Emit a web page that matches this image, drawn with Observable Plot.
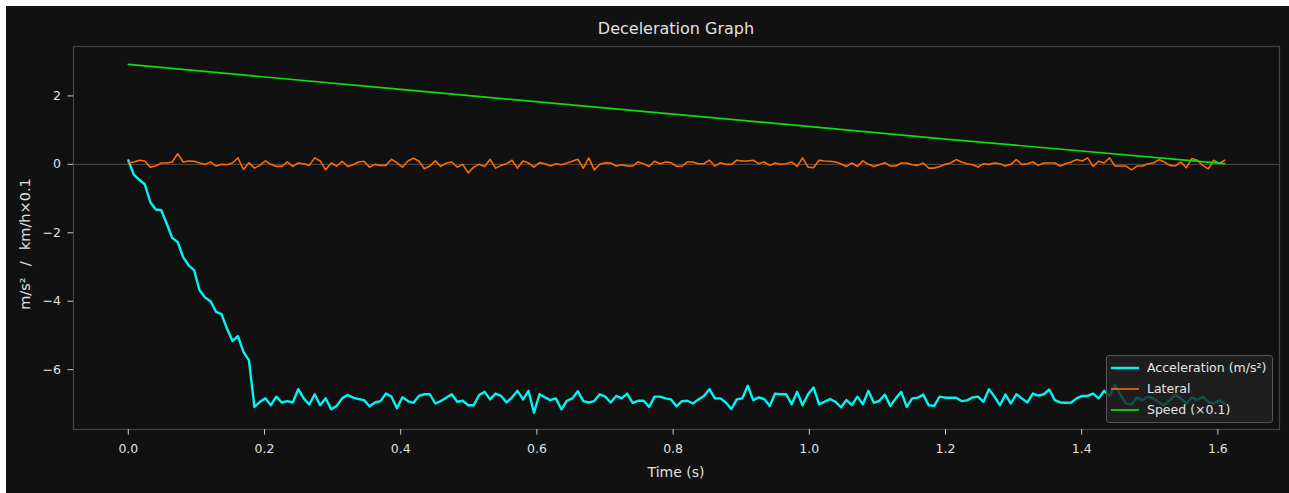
<!DOCTYPE html>
<html><head><meta charset="utf-8">
<script src="https://cdn.jsdelivr.net/npm/d3@7"></script>
<script src="https://cdn.jsdelivr.net/npm/@observablehq/plot@0.6"></script>
<style>
html,body{margin:0;padding:0;background:#ffffff;}
#fig{position:absolute;left:6px;top:6px;width:1283px;height:487px;background:#111111;font-family:"DejaVu Sans",sans-serif;color:#e0e0e0;overflow:hidden;}
#chart{position:absolute;left:0;top:0;}
#title{position:absolute;left:67px;width:1206px;top:13px;text-align:center;font-size:16px;line-height:19px;white-space:nowrap;}
#xlabel{position:absolute;left:67px;width:1206px;top:458px;text-align:center;font-size:14px;line-height:17px;white-space:pre;}
#ylabel{position:absolute;left:19px;top:238px;transform:translate(-50%,-50%) rotate(-90deg);font-size:14.5px;line-height:17px;white-space:pre;word-spacing:1px;}
#legend{position:absolute;left:1100px;top:349px;width:165px;height:66px;border:1px solid #555;border-radius:3px;background:rgba(34,34,34,0.8);}
.row{position:absolute;left:0;height:20px;width:165px;}
.row svg{position:absolute;left:3px;top:0;}
.row span{position:absolute;left:40px;top:1px;font-size:12.5px;line-height:18px;white-space:nowrap;color:#e6e6e6;}
</style>
</head><body>
<div id="fig">
  <div id="chart"></div>
  <div id="title">Deceleration Graph</div>
  <div id="xlabel">Time (s)</div>
  <div id="ylabel">m/s²  /  km/h×0.1</div>
  <div id="legend"></div>
</div>
<script>
// ---- data ----
const sampleStep = 0.00805; // seconds between samples (201 samples, 0 .. 1.61 s)

const acceleration = [
  0.12, -0.30, -0.45, -0.58, -1.10, -1.32, -1.34, -1.73, -2.15, -2.27, -2.71, -2.95, -3.09, -3.68, -3.89, -4.00, -4.31, -4.38, -4.80, -5.16, -5.02, -5.48, -5.72,
  -7.09, -6.94, -6.84, -7.04, -6.79, -6.96, -6.92, -6.96, -6.57, -6.84, -7.02, -6.72, -7.04, -6.84, -7.16, -7.06, -6.84, -6.74, -6.82, -6.86, -6.89, -7.07, -6.96, -6.92, -6.70, -6.79, -7.13, -6.81, -6.92, -6.97, -6.77, -6.72, -6.72, -6.99, -6.92, -6.82, -6.72, -6.94, -6.91, -7.04, -7.04, -6.74, -6.65,
  -6.87, -6.70, -6.77, -6.96, -6.81, -6.62, -6.87, -6.62, -7.26, -6.72, -6.81, -6.89, -6.84, -7.16, -6.91, -6.84, -6.63, -6.92, -6.96, -6.92, -6.72, -6.79, -6.96, -6.77, -6.84, -6.70, -6.97, -6.91, -6.91, -7.09, -6.79, -6.79, -6.84, -6.87, -7.07, -6.92, -6.91, -6.99, -6.87, -6.77, -6.57, -6.84, -6.84, -6.96,
  -7.15, -6.87, -6.84, -6.47, -6.89, -6.81, -6.86, -7.06, -6.70, -6.72, -6.72, -7.01, -6.65, -7.04, -6.72, -6.52, -7.01, -6.94, -6.86, -6.94, -7.10, -6.89, -7.04, -6.79, -7.01, -6.62, -6.97, -6.91, -6.73, -7.06, -6.84, -6.65, -7.09, -6.84, -6.82, -6.73, -7.04, -7.06, -6.79, -6.82, -6.82, -6.82,
  -6.92, -6.90, -6.81, -6.79, -6.94, -6.57, -6.79, -7.04, -6.73, -6.99, -6.72, -6.84, -6.96, -6.70, -6.76, -6.72, -6.58, -6.89, -6.96, -6.97, -6.96, -6.84, -6.77, -6.77, -6.70, -6.84, -6.62, -6.77,
  -6.45, -6.74, -6.99, -7.02, -6.82, -6.89, -6.79, -6.84, -6.96, -7.04, -6.89, -6.74, -6.84, -6.99, -6.82, -6.89, -6.79, -6.94, -6.99, -6.90, -6.99
];

const lateral = [
  0.04, 0.07, 0.12, 0.10, -0.08, -0.05, 0.04, 0.04, 0.07, 0.31, 0.07, 0.10, 0.09, 0.04, 0.00, 0.07, -0.05, 0.00, -0.01, 0.04, 0.19, -0.15, 0.05, -0.11, -0.03, 0.10, 0.00, -0.06,
  -0.06, 0.07, -0.06, 0.04, 0.02, -0.03, 0.19, 0.10, -0.16, 0.04, -0.05, 0.09, -0.06, -0.01, 0.07, 0.09, -0.08, 0.00, -0.03, -0.03, 0.15, 0.05, -0.08, 0.10, 0.18, 0.10, -0.13, -0.05, 0.10, -0.06, 0.04, 0.07, -0.08, 0.00, -0.25, -0.08, 0.00, -0.06, 0.15, -0.11, -0.03, 0.02, 0.12, -0.11, 0.10, 0.04,
  -0.08, 0.05, 0.02, -0.05, 0.02, -0.01, 0.04, 0.09, 0.15, -0.11, 0.19, -0.16, 0.00, 0.05, 0.04, -0.05, -0.01, -0.05, -0.05, 0.07, 0.02, -0.06, 0.09, 0.02, 0.07, 0.05, -0.06, -0.05, 0.07, 0.07, 0.02, 0.02, 0.12, -0.05, 0.05, 0.00, 0.00, 0.12, 0.10, 0.10, 0.12, 0.02, 0.07,
  -0.03, 0.04, 0.00, 0.02, 0.07, -0.06, 0.19, -0.08, -0.10, 0.12, 0.10, 0.09, 0.07, 0.02, -0.06, 0.04, -0.06, 0.10, 0.00, -0.06, -0.01, 0.05, -0.05, -0.05, 0.04, 0.04, -0.01, -0.03, 0.04, -0.11, -0.11, -0.06, 0.00, 0.04, 0.14, 0.07, 0.02, -0.01, -0.08, 0.02, 0.00, 0.04,
  0.02, -0.05, 0.00, 0.14, 0.00, 0.02, 0.07, -0.03, 0.04, 0.04, 0.04, -0.05, 0.02, 0.07, 0.14, 0.10, 0.19, -0.06, 0.09, 0.04, 0.19, -0.05, -0.05, -0.05, -0.16, -0.05, -0.05, 0.02, 0.04, 0.14, 0.07, -0.03, -0.05, 0.07, -0.10, 0.17, 0.12, -0.03, -0.13, 0.12, 0.02, 0.12
];

const speedTimes = [0, 0.4, 0.8, 1.2, 1.61];
const speed = [2.92, 2.19, 1.47, 0.74, 0.02];

const xTicks = [0, 0.2, 0.4, 0.6, 0.8, 1.0, 1.2, 1.4, 1.6];
const yTicks = [-6, -4, -2, 0, 2];

const seriesNames = ["Acceleration (m/s²)", "Lateral", "Speed (×0.1)"];
const seriesColors = ["#00f5f5", "#ff6a00", "#11dd11"];
const seriesWidths = [2.4, 1.6, 1.7];

// ---- build tables ----
const accelRows = acceleration.map((v, i) => ({t: i * sampleStep, v}));
const latRows = lateral.map((v, i) => ({t: i * sampleStep, v}));
const speedRows = speed.map((v, i) => ({t: speedTimes[i], v}));

const chart = Plot.plot({
  width: 1283,
  height: 487,
  marginLeft: 67,
  marginTop: 40,
  marginRight: 10,
  marginBottom: 64,
  style: {background: "transparent", color: "#dddddd", fontFamily: "DejaVu Sans, sans-serif", fontSize: "12.5px"},
  x: {domain: [-0.0805, 1.6905]},
  y: {domain: [-7.75, 3.445]},
  marks: [
    Plot.ruleY([0], {stroke: "#555555", strokeWidth: 0.9}),
    Plot.line(accelRows, {x: "t", y: "v", stroke: seriesColors[0], strokeWidth: seriesWidths[0], strokeLinejoin: "round"}),
    Plot.line(latRows, {x: "t", y: "v", stroke: seriesColors[1], strokeWidth: seriesWidths[1], strokeLinejoin: "round"}),
    Plot.line(speedRows, {x: "t", y: "v", stroke: seriesColors[2], strokeWidth: seriesWidths[2]}),
    Plot.frame({stroke: "#444444", strokeWidth: 1.2}),
    Plot.axisX({ticks: xTicks, tickFormat: d3.format(".1f"), tickSize: 5.5, tickPadding: 9, label: null, stroke: "#cccccc", fill: "#e0e0e0"}),
    Plot.axisY({ticks: yTicks, tickFormat: d3.format("d"), tickSize: 5.5, tickPadding: 7, label: null, stroke: "#cccccc", fill: "#e0e0e0"})
  ]
});
document.getElementById("chart").appendChild(chart);

// ---- legend ----
const legend = document.getElementById("legend");
seriesNames.forEach((name, i) => {
  const row = document.createElement("div");
  row.className = "row";
  row.style.top = (2 + i * 21) + "px";
  row.innerHTML = `<svg width="30" height="20"><line x1="1" x2="29" y1="10" y2="10" stroke="${seriesColors[i]}" stroke-width="${seriesWidths[i]}"/></svg><span>${name}</span>`;
  legend.appendChild(row);
});
</script>
</body></html>
